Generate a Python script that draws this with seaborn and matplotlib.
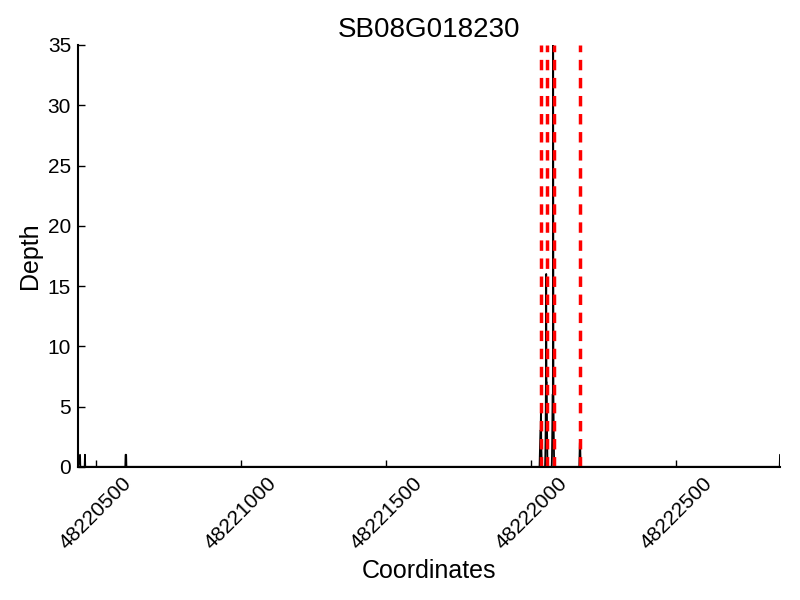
import matplotlib
matplotlib.use("Agg")
import matplotlib.pyplot as plt
import seaborn as sns

# Gen och exon-gränser
gene = "SB08G018230"
coords = [48220438, 48220445, 48220446, 48220461, 48220462, 48220463,
          48220601, 48220602, 48220603, 48220604, 48220605,
          48222029, 48222030, 48222031, 48222032, 48222033, 48222034, 48222035, 48222036, 48222037,
          48222048, 48222049, 48222050, 48222051, 48222052, 48222053, 48222054, 48222055, 48222056, 48222057,
          48222071, 48222072, 48222073, 48222074, 48222075, 48222076, 48222077, 48222078, 48222079, 48222080,
          48222166, 48222167, 48222168, 48222169, 48222170, 48222171,
          48222857, 48222858]
depth = [0, 1, 0, 0, 1, 0,
         0, 1, 1, 1, 0,
         0, 1, 2, 3, 3, 5, 2, 1, 0,
         0, 1, 3, 7, 16, 7, 7, 3, 1, 0,
         0, 1, 3, 6, 6, 35, 6, 3, 1, 0,
         0, 1, 2, 2, 1, 0,
         0, 1]
exon_bounds = [48222034, 48222055, 48222079, 48222169]

sns.set_style("ticks")
plt.rcParams["font.family"] = ["Liberation Sans", "DejaVu Sans"]
plt.rcParams.update({"text.color": "black", "axes.labelcolor": "black",
                     "xtick.color": "black", "ytick.color": "black"})

fig = plt.figure(figsize=(8, 6), dpi=100)
ax = fig.add_axes([0.0975, 0.222, 0.8775, 0.703])

sns.lineplot(x=coords, y=depth, color="black", linewidth=1.3, estimator=None, ax=ax)
for b in exon_bounds:
    ax.axvline(b, color="red", linestyle="--", linewidth=2.5, dashes=(3, 2.2))

ax.set_xlim(min(coords), max(coords))
ax.set_ylim(0, 35)
ax.set_xticks([48220500, 48221000, 48221500, 48222000, 48222500])
ax.set_xticklabels(["48220500", "48221000", "48221500", "48222000", "48222500"],
                   rotation=45, ha="center")
ax.set_yticks(range(0, 36, 5))
ax.tick_params(direction="in", labelsize=15, length=5, width=1, top=False, right=False,
               bottom=True, left=True, pad=5)
for side in ["top", "right"]:
    ax.spines[side].set_visible(False)
for side in ["left", "bottom"]:
    ax.spines[side].set_color("black")
    ax.spines[side].set_linewidth(1.5)

ax.set_title(gene, fontsize=20)
ax.set_xlabel("Coordinates", fontsize=18)
ax.set_ylabel("Depth", fontsize=18)

fig.savefig("out.png", dpi=100)
